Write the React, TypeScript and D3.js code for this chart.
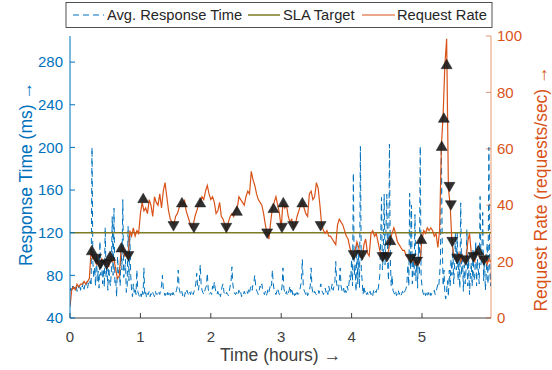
import React from 'react'
import * as d3 from 'd3'

// sampling steps, in hours
const RATE_STEP = 0.025
const RESP_STEP = 0.0125

// request rate (requests/sec), one value per RATE_STEP
const requestRate = [
  4, 10, 11, 10, 12, 11, 12, 12, 13, 12, 13, 14, 24, 21, 22, 19, 20, 18, 21, 20,
  19, 21, 18, 22, 20, 21, 17, 14, 15, 24, 25, 22, 23, 21, 31, 29, 32, 29, 31, 30,
  37, 41, 38, 39, 37, 42, 40, 36, 43, 41, 40, 44, 39, 45, 48, 43, 38, 35, 34, 33,
  36, 37, 39, 41, 40, 42, 38, 36, 34, 32, 33, 36, 38, 40, 41, 43, 42, 45, 47, 44,
  42, 43, 41, 37, 38, 41, 36, 35, 33, 31, 34, 36, 37, 36, 38, 39, 43, 42, 41, 40,
  43, 45, 44, 52, 49, 47, 44, 42, 41, 40, 37, 33, 30, 28, 34, 39, 41, 43, 40, 37,
  32, 41, 39, 40, 36, 34, 35, 32, 33, 36, 38, 40, 41, 39, 37, 36, 44, 45, 42, 43,
  48, 46, 40, 33, 31, 30, 31, 29, 29, 28, 27, 26, 33, 35, 34, 33, 31, 29, 28, 25,
  23, 22, 24, 27, 25, 22, 21, 26, 28, 23, 22, 30, 31, 29, 30, 27, 24, 22, 21, 23,
  22, 24, 28, 30, 32, 30, 27, 26, 25, 24, 24, 22, 22, 21, 20, 21, 19, 20, 19, 21,
  28, 31, 30, 32, 31, 32, 31, 29, 30, 25, 31, 61, 72, 90, 99, 46, 40, 27, 22, 21,
  21, 23, 20, 22, 21, 20, 27, 30, 23, 21, 20, 24, 23, 21, 22, 20, 22, 19, 21, 20,
]

// average response time (ms), one value per RESP_STEP
const responseTime = [
  65, 68, 64, 70, 66, 69, 67, 71, 65, 70, 68, 72, 66, 71, 69, 73, 67, 72, 70, 74,
  68, 73, 71, 75, 70, 200, 92, 78, 88, 70, 100, 75, 84, 68, 112, 80, 95, 72, 86, 69,
  125, 78, 90, 66, 92, 75, 70, 85, 135, 80, 143, 72, 75, 60, 98, 82, 88, 70, 108, 85,
  151, 78, 82, 95, 64, 70, 126, 75, 118, 80, 66, 60, 72, 64, 68, 62, 85, 65, 62, 60,
  63, 60, 66, 62, 87, 61, 64, 59, 63, 62, 65, 60, 63, 61, 64, 62, 60, 65, 62, 63,
  61, 64, 62, 66, 70, 80, 68, 64, 61, 63, 60, 64, 62, 65, 61, 63, 60, 64, 62, 61,
  63, 66, 70, 85, 68, 64, 62, 65, 61, 63, 60, 64, 62, 66, 63, 61, 64, 62, 66, 63,
  62, 65, 68, 72, 82, 70, 66, 74, 90, 72, 66, 64, 62, 65, 68, 70, 82, 68, 62, 63,
  64, 62, 70, 66, 74, 68, 64, 62, 65, 61, 63, 60, 66, 70, 72, 64, 63, 61, 64, 62,
  61, 65, 70, 74, 88, 72, 66, 63, 62, 64, 61, 63, 66, 62, 64, 60, 63, 62, 65, 63,
  62, 65, 63, 67, 64, 68, 70, 66, 72, 74, 80, 70, 66, 64, 62, 66, 70, 68, 72, 66,
  64, 62, 65, 61, 63, 67, 64, 68, 72, 70, 85, 72, 66, 64, 62, 65, 68, 64, 62, 63,
  64, 70, 87, 68, 64, 62, 65, 61, 63, 66, 70, 64, 68, 62, 65, 61, 63, 60, 64, 62,
  63, 66, 70, 74, 95, 72, 66, 64, 62, 65, 61, 63, 66, 70, 87, 68, 64, 62, 65, 63,
  62, 64, 66, 63, 68, 72, 66, 64, 62, 65, 68, 64, 66, 62, 70, 66, 64, 68, 72, 66,
  70, 74, 93, 72, 68, 66, 74, 87, 70, 66, 64, 68, 62, 66, 64, 70, 66, 72, 80, 75,
  95, 70, 176, 80, 90, 65, 110, 72, 100, 68, 201, 85, 75, 62, 70, 64, 66, 62, 64, 61,
  63, 65, 62, 64, 61, 66, 63, 65, 64, 68, 66, 72, 80, 110, 153, 85, 100, 156, 90, 120,
  156, 90, 75, 203, 95, 70, 80, 66, 64, 62, 65, 61, 63, 66, 62, 64, 61, 63, 65, 62,
  64, 66, 68, 75, 90, 70, 157, 85, 146, 72, 100, 80, 137, 75, 95, 68, 110, 80, 201, 78,
  70, 64, 62, 65, 61, 63, 60, 64, 62, 65, 61, 63, 62, 64, 66, 62, 65, 68, 72, 70,
  80, 95, 201, 110, 70, 85, 62, 58, 66, 75, 60, 85, 70, 95, 80, 110, 72, 90, 120, 85,
  120, 75, 95, 68, 148, 80, 100, 65, 90, 72, 85, 123, 70, 95, 62, 80, 92, 70, 105, 75,
  80, 112, 70, 95, 85, 72, 154, 90, 100, 139, 75, 98, 66, 80, 110, 72, 200, 85, 70, 95,
]

const slaTarget = 120

// rate change events
const eventTime = [0.31, 0.37, 0.43, 0.52, 0.57, 0.73, 0.83, 1.04, 1.47, 1.59, 1.76, 1.85, 2.22, 2.37, 2.8, 2.89, 3.01, 3.03, 3.17, 3.3,
  3.56, 4.03, 4.15, 4.44, 4.5, 4.55, 4.84, 4.93, 4.99, 5.28, 5.31, 5.35, 5.39, 5.41, 5.43, 5.5, 5.62, 5.73, 5.8, 5.88]
const eventRate = [24, 21, 19, 19, 22, 25, 22, 42.5, 32.6, 41, 32, 41, 32, 38, 30, 39, 32, 41, 32.6, 41,
  32.6, 22.3, 22.3, 21.6, 21.6, 27.6, 21, 20, 28, 61, 71, 90, 46.5, 40, 27, 21, 20.5, 21.6, 24, 20.5]
const eventDir = ['up', 'down', 'down', 'down', 'up', 'up', 'down', 'up', 'down', 'up', 'down', 'up', 'down', 'up', 'down', 'up', 'down', 'up', 'down', 'up',
  'down', 'down', 'down', 'down', 'down', 'up', 'down', 'down', 'up', 'up', 'up', 'up', 'down', 'down', 'down', 'down', 'down', 'down', 'up', 'down']

const xTicks = [0, 1, 2, 3, 4, 5]
const leftTicks = [40, 80, 120, 160, 200, 240, 280]
const rightTicks = [0, 20, 40, 60, 80, 100]

const BLUE = '#0072BD'
const ORANGE = '#D95319'
const OLIVE = '#7E7B22'
const GREY = '#404040'
const FONT = '"Liberation Sans", Arial, sans-serif'

const W = 552
const H = 370
const L = 70, R = 491, T = 36, B = 318

export default function App() {
  const x = d3.scaleLinear().domain([0, 5.98]).range([L, R])
  const yL = d3.scaleLinear().domain([40, 304.5]).range([B, T])
  const yR = d3.scaleLinear().domain([0, 100]).range([B, T])

  const respLine = d3.line<number>().x((_, i) => x(i * RESP_STEP)).y(d => yL(d))
  const rateLine = d3.line<number>().x((_, i) => x(i * RATE_STEP)).y(d => yR(d))

  const up = 'M0,-5L5.5,4.5L-5.5,4.5Z'
  const down = 'M0,5L5.5,-4.5L-5.5,-4.5Z'

  return (
    <svg width={W} height={H} style={{ position: 'absolute', left: 0, top: 0 }} fontFamily={FONT}>
      <rect width={W} height={H} fill="#fff" />
      <defs>
        <clipPath id="plot"><rect x={L} y={T} width={R - L} height={B - T} /></clipPath>
      </defs>

      <g clipPath="url(#plot)">
        <path d={respLine(responseTime) || ''} fill="none" stroke={BLUE} strokeWidth={1} strokeDasharray="6,4" />
        <line x1={L} x2={R} y1={yL(slaTarget)} y2={yL(slaTarget)} stroke={OLIVE} strokeWidth={1.5} />
        <path d={rateLine(requestRate) || ''} fill="none" stroke={ORANGE} strokeWidth={1.2} />
        {eventTime.map((t, i) => (
          <path key={i} d={eventDir[i] === 'up' ? up : down}
            transform={`translate(${x(t)},${yR(eventRate[i])})`}
            fill="#1a1a1a" fillOpacity={0.9} stroke="#1a1a1a" strokeWidth={0.5} />
        ))}
      </g>

      {/* bottom axis */}
      <line x1={L} x2={R} y1={B} y2={B} stroke={GREY} />
      {xTicks.map(t => (
        <g key={t}>
          <line x1={x(t)} x2={x(t)} y1={B} y2={B - 5} stroke={GREY} />
          <text x={x(t)} y={342} textAnchor="middle" fontSize={15} fill={GREY}>{t}</text>
        </g>
      ))}
      <text x={(L + R) / 2} y={361} textAnchor="middle" fontSize={17.5} fill={GREY}>Time (hours) →</text>

      {/* left axis */}
      <line x1={L} x2={L} y1={T} y2={B} stroke={BLUE} />
      {leftTicks.map(v => (
        <g key={v}>
          <line x1={L} x2={L + 5} y1={yL(v)} y2={yL(v)} stroke={BLUE} />
          <text x={63} y={yL(v)} dy="0.35em" textAnchor="end" fontSize={15} fill={BLUE}>{v}</text>
        </g>
      ))}
      <text transform={`translate(32,174) rotate(-90)`} textAnchor="middle" fontSize={17.5} fill={BLUE}>Response Time (ms) →</text>

      {/* right axis */}
      <line x1={R} x2={R} y1={T} y2={B} stroke={ORANGE} strokeOpacity={0.6} />
      {rightTicks.map(v => (
        <g key={v}>
          <line x1={R} x2={R - 5} y1={yR(v)} y2={yR(v)} stroke={ORANGE} strokeOpacity={0.6} />
          <text x={497} y={yR(v)} dy="0.35em" textAnchor="start" fontSize={15} fill={ORANGE}>{v}</text>
        </g>
      ))}
      <text transform={`translate(547,189) rotate(-90)`} textAnchor="middle" fontSize={17.5} fill={ORANGE}>Request Rate (requests/sec) →</text>

      {/* legend */}
      <g>
        <rect x={66} y={2.5} width={426} height={25} fill="#fff" stroke="#262626" strokeWidth={0.8} />
        <line x1={73} x2={104} y1={15} y2={15} stroke={BLUE} strokeDasharray="6,4" />
        <text x={107} y={15} dy="0.35em" fontSize={14.7} fill="#262626">Avg. Response Time</text>
        <line x1={248} x2={280} y1={15} y2={15} stroke={OLIVE} strokeWidth={1.5} />
        <text x={283} y={15} dy="0.35em" fontSize={14.7} fill="#262626">SLA Target</text>
        <line x1={362} x2={395} y1={15} y2={15} stroke={ORANGE} strokeWidth={1.2} />
        <text x={397} y={15} dy="0.35em" fontSize={14.7} fill="#262626">Request Rate</text>
      </g>
    </svg>
  )
}
